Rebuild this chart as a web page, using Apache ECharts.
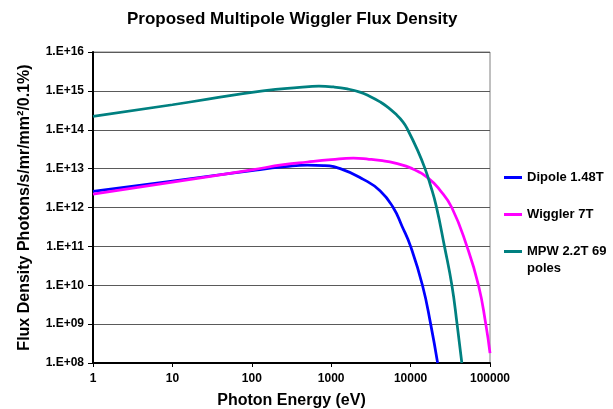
<!DOCTYPE html>
<html>
<head>
<meta charset="utf-8">
<script src="https://cdn.jsdelivr.net/npm/echarts@6/dist/echarts.min.js"></script>
<style>html,body{margin:0;padding:0;background:#fff}#c{width:613px;height:409px}</style>
</head>
<body>
<div id="c"></div>
<script>
// Photon energies (eV) and flux densities
const dipoleEnergy = [1, 10, 100, 263, 500, 800, 1300, 2540, 4120, 6030, 7800, 10000, 14100, 17900, 21900];
const dipoleFlux   = [2.6e12, 4.8e12, 8.9e12, 1.12e13, 1.23e13, 1.2e13, 1.0e13, 5.3e12, 2.7e12, 1.0e12, 3.3e11, 1.0e11, 1.0e10, 1.0e9, 1.0e8];

const wigglerEnergy = [1, 10, 100, 250, 500, 1000, 1900, 3000, 4100, 6400, 10500, 16800, 23400, 33000, 51200, 71600, 88500, 100000];
const wigglerFlux   = [2.2e12, 4.5e12, 9.3e12, 1.26e13, 1.48e13, 1.7e13, 1.86e13, 1.74e13, 1.62e13, 1.38e13, 1.0e13, 5.6e12, 2.8e12, 1.0e12, 1.0e11, 1.0e10, 1.0e9, 1.8e8];

const mpwEnergy = [1, 10, 28, 138, 400, 700, 1070, 1600, 2300, 3000, 4200, 5000, 6400, 8000, 9200, 12300, 15200, 17600, 21000, 26700, 33100, 38500, 44200];
const mpwFlux   = [2.2e14, 4.4e14, 6.1e14, 1.0e15, 1.23e15, 1.32e15, 1.26e15, 1.12e15, 9.3e14, 7.4e14, 5.1e14, 4.0e14, 2.6e14, 1.6e14, 1.0e14, 2.9e13, 1.0e13, 4.0e12, 1.1e12, 1.0e11, 1.0e10, 1.0e9, 1.0e8];

const seriesNames = ['Dipole 1.48T', 'Wiggler 7T', 'MPW 2.2T 69 poles'];
const seriesColors = ['#0000FF', '#FF00FF', '#008080'];

const titleText = 'Proposed Multipole Wiggler Flux Density';
const xName = 'Photon Energy (eV)';
const yName = 'Flux Density Photons/s/mr/mm\u00B2/0.1%)';

function pairs(xs, ys) { return xs.map((x, i) => [x, ys[i]]); }

const font = 'Arial, "Liberation Sans", Helvetica, sans-serif';
const chart = echarts.init(document.getElementById('c'), null, {renderer: 'canvas'});

const seriesData = [pairs(dipoleEnergy, dipoleFlux), pairs(wigglerEnergy, wigglerFlux), pairs(mpwEnergy, mpwFlux)];
const legendText = {fontFamily: font, fontWeight: 'bold', fontSize: 13, color: '#000'};
const legendBase = {orient: 'vertical', left: 499, icon: 'rect', itemWidth: 18, itemHeight: 3, itemGap: 4};

chart.setOption({
  animation: false,
  backgroundColor: '#ffffff',
  title: {
    text: titleText,
    left: 122,
    top: 6,
    textStyle: {fontFamily: font, fontWeight: 'bold', fontSize: 17, color: '#000'}
  },
  grid: {left: 93, right: 123, top: 52, bottom: 46, containLabel: false, outerBoundsMode: 'none',
    show: true, borderColor: '#808080', borderWidth: 1},
  legend: [
    Object.assign({}, legendBase, {data: [seriesNames[0]], top: 166, textStyle: legendText}),
    Object.assign({}, legendBase, {data: [seriesNames[1]], top: 203, textStyle: legendText}),
    Object.assign({}, legendBase, {
      data: [seriesNames[2]], top: 221,
      formatter: function () { return ' \nMPW 2.2T 69\npoles'; },
      textStyle: Object.assign({}, legendText, {lineHeight: 17})
    })
  ],
  xAxis: {
    type: 'log', logBase: 10, min: 1, max: 100000, interval: 1,
    name: xName, nameLocation: 'middle', nameGap: 30,
    nameTextStyle: {fontFamily: font, fontWeight: 'bold', fontSize: 16, color: '#000'},
    axisLine: {show: true, onZero: false, lineStyle: {color: '#000', width: 2}},
    axisTick: {show: true, length: 4, inside: false, lineStyle: {color: '#000'}},
    minorTick: {show: false},
    axisLabel: {fontFamily: font, fontWeight: 'bold', fontSize: 12, color: '#000', margin: 10,
      formatter: function (v) { return String(Math.round(v)); }},
    splitLine: {show: false}
  },
  yAxis: {
    type: 'log', logBase: 10, min: 1e8, max: 1e16, interval: 1,
    name: yName, nameLocation: 'middle', nameGap: 60,
    nameTextStyle: {fontFamily: font, fontWeight: 'bold', fontSize: 16, color: '#000'},
    axisLine: {show: true, onZero: false, lineStyle: {color: '#000', width: 2}},
    axisTick: {show: true, length: 5, inside: false, lineStyle: {color: '#000'}},
    axisLabel: {fontFamily: font, fontWeight: 'bold', fontSize: 12, color: '#000', margin: 9,
      formatter: function (v) {
        const e = Math.round(Math.log10(v));
        return '1.E+' + (e < 10 ? '0' + e : e);
      }},
    splitLine: {show: true, lineStyle: {color: '#5a5a5a', width: 1}}
  },
  series: seriesNames.map((n, i) => ({
    name: n,
    type: 'line',
    data: seriesData[i],
    symbol: 'none',
    showSymbol: false,
    smooth: 0.5,
    clip: true,
    lineStyle: {color: seriesColors[i], width: 2.75},
    itemStyle: {color: seriesColors[i]}
  }))
});
</script>
</body>
</html>
